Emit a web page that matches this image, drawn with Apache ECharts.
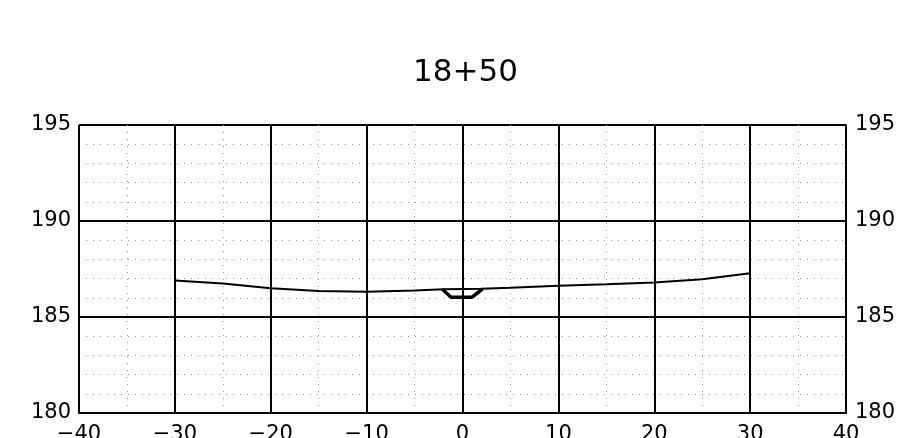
<!DOCTYPE html>
<html><head><meta charset="utf-8">
<script src="https://cdn.jsdelivr.net/npm/echarts@6/dist/echarts.min.js"></script>
<style>html,body{margin:0;padding:0;background:#fff}#c{width:900px;height:438px}</style>
</head><body><div id="c"></div>
<script>
var title = "18+50";
var groundX = [-30, -25, -20, -15, -10, -5, -2, 2, 5, 10, 15, 20, 25, 30];
var groundY = [186.9, 186.75, 186.5, 186.35, 186.32, 186.38, 186.44, 186.47, 186.52, 186.63, 186.7, 186.8, 186.97, 187.28];
var ditchX = [-2.1, -1.2, 1.0, 2.1];
var ditchY = [186.45, 186.03, 186.03, 186.47];
var xMin = -40, xMax = 40, xStep = 10;
var yMin = 180, yMax = 195, yStep = 5;

function pairs(xs, ys) { return xs.map(function (x, i) { return [x, ys[i]]; }); }
function fmt(v) { return v < 0 ? '\u2212' + Math.abs(v) : String(v); }

var font = 'DejaVu Sans';
var chart = echarts.init(document.getElementById('c'), null, { renderer: 'canvas' });
var yAxisBase = {
  type: 'value', min: yMin, max: yMax, interval: yStep,
  axisLine: { show: true, lineStyle: { color: '#000', width: 2 } },
  axisTick: { show: false },
  axisLabel: { color: '#000', fontSize: 21, fontFamily: font, margin: 8 }
};
chart.setOption({
  animation: false,
  backgroundColor: '#fff',
  title: { text: title, left: 408, top: 52, textStyle: { fontSize: 31, fontWeight: 'normal', color: '#000', fontFamily: font } },
  grid: { left: 79, right: 54, top: 125, bottom: 25, containLabel: false, outerBoundsMode: 'none' },
  xAxis: {
    type: 'value', min: xMin, max: xMax, interval: xStep,
    axisLine: { show: true, onZero: false, lineStyle: { color: '#000', width: 2 } },
    axisTick: { show: false },
    axisLabel: { color: '#000', fontSize: 21, fontFamily: font, margin: 11, formatter: fmt },
    splitLine: { show: true, lineStyle: { color: '#000', width: 2 } },
    minorTick: { show: false, splitNumber: 2 },
    minorSplitLine: { show: true, lineStyle: { color: '#999', width: 1, type: [1, 6] } }
  },
  yAxis: [
    Object.assign({}, yAxisBase, {
      position: 'left',
      splitLine: { show: true, lineStyle: { color: '#000', width: 2 } },
      minorTick: { show: false, splitNumber: 5 },
      minorSplitLine: { show: true, lineStyle: { color: '#999', width: 1, type: [1, 6] } }
    }),
    Object.assign({}, yAxisBase, {
      position: 'right', splitLine: { show: false },
      axisLabel: { color: '#000', fontSize: 21, fontFamily: font, margin: 9 }
    })
  ],
  series: [
    { type: 'line', data: pairs(groundX, groundY), showSymbol: false, smooth: false,
      lineStyle: { color: '#000', width: 2 }, yAxisIndex: 0 },
    { type: 'line', data: pairs(ditchX, ditchY), showSymbol: false,
      lineStyle: { color: '#000', width: 3.5 }, yAxisIndex: 0 }
  ]
});
</script>
</body></html>
